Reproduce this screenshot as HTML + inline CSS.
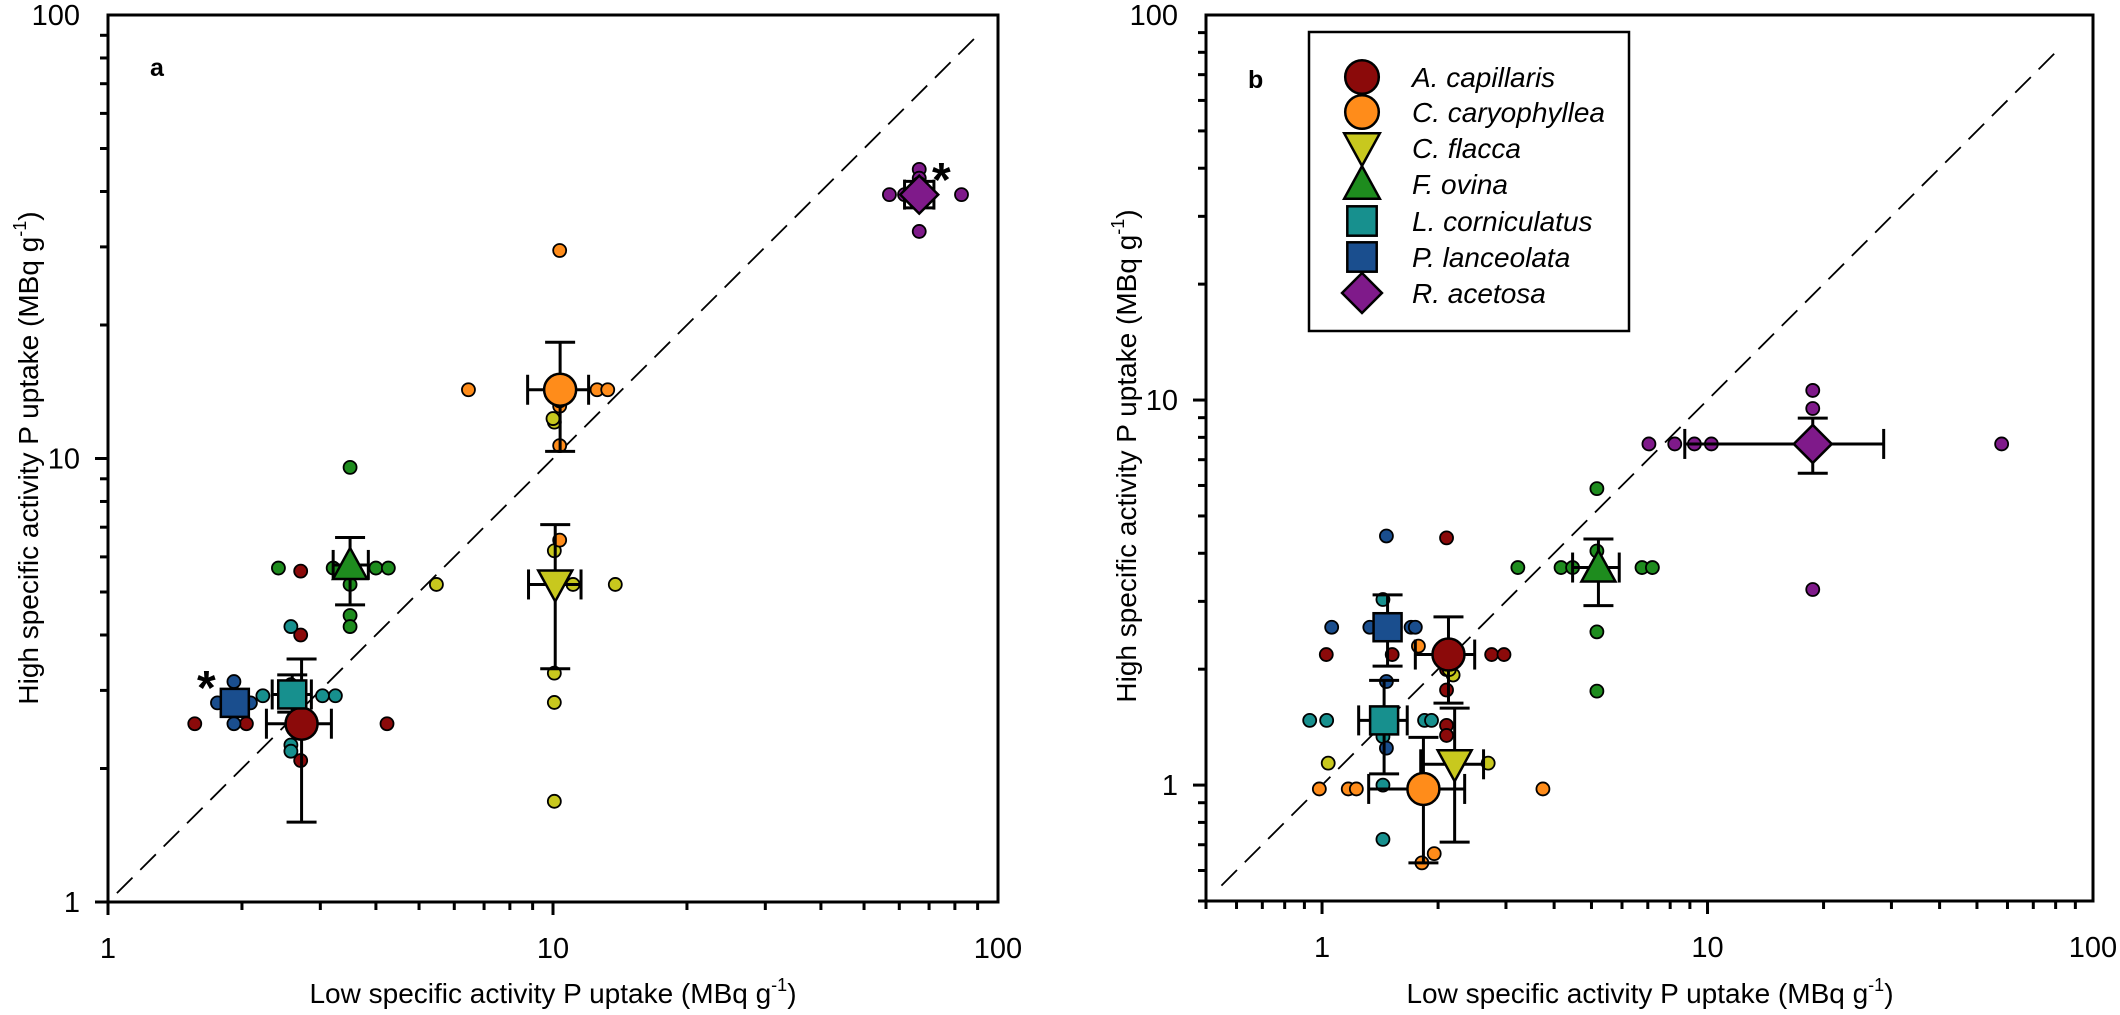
<!DOCTYPE html>
<html><head><meta charset="utf-8"><style>
html,body{margin:0;padding:0;background:#fff;}
svg{display:block;font-family:"Liberation Sans",Arial,sans-serif;}
</style></head><body>
<svg id="s" width="2120" height="1015" viewBox="0 0 2120 1015" xmlns="http://www.w3.org/2000/svg"></svg>
<script>
var S=document.getElementById('s');var out='';
var C={ac:'#8B0A0A',cc:'#FF8C1A',cf:'#C8C81E',fo:'#1E8C1E',lc:'#17908E',pl:'#1A4E8E',ra:'#7F1A8A'};
function P(L,R,T,B,x0,x1,y0,y1){return{L:L,R:R,T:T,B:B,X:function(v){return L+(v-x0)/(x1-x0)*(R-L)},Y:function(v){return B-(v-y0)/(y1-y0)*(B-T)},x0:x0,x1:x1,y0:y0,y1:y1};}
function lg(v){return Math.log10(v);}
function axes(p){
 out+='<rect x="'+p.L+'" y="'+p.T+'" width="'+(p.R-p.L)+'" height="'+(p.B-p.T)+'" fill="none" stroke="#000" stroke-width="3"/>';
 for(var d=Math.floor(p.x0);d<p.x1;d++){for(var m=1;m<10;m++){var v=d+lg(m);if(v<p.x0-1e-6||v>p.x1+1e-6)continue;var x=p.X(v);var len=m==1?13:8;out+='<line x1="'+x+'" y1="'+p.B+'" x2="'+x+'" y2="'+(p.B+len)+'" stroke="#000" stroke-width="3"/>';}}
 for(var d=Math.floor(p.y0);d<p.y1;d++){for(var m=1;m<10;m++){var v=d+lg(m);if(v<p.y0-1e-6||v>p.y1+1e-6)continue;var y=p.Y(v);var len=m==1?13:8;out+='<line x1="'+p.L+'" y1="'+y+'" x2="'+(p.L-len)+'" y2="'+y+'" stroke="#000" stroke-width="3"/>';}}
 var lab=[[0,'1'],[1,'10'],[2,'100']];
 lab.forEach(function(l){if(l[0]>=p.x0&&l[0]<=p.x1)out+='<text x="'+p.X(l[0])+'" y="'+(p.B+56)+'" font-size="29" text-anchor="middle">'+l[1]+'</text>';
 if(l[0]>=p.y0&&l[0]<=p.y1)out+='<text x="'+(p.L-28)+'" y="'+(p.Y(l[0])+10)+'" font-size="29" text-anchor="end">'+l[1]+'</text>';});
}
function dot(p,x,y,c){out+='<circle cx="'+p.X(x)+'" cy="'+p.Y(y)+'" r="6.5" fill="'+c+'" stroke="#000" stroke-width="1.8"/>';}
function eb(p,x,y,xa,xb,ya,yb){var X=p.X(x),Y=p.Y(y);var s='stroke="#000" stroke-width="3"';
 if(xa!=null){var a=p.X(xa),b=p.X(xb);out+='<line x1="'+a+'" y1="'+Y+'" x2="'+b+'" y2="'+Y+'" '+s+'/><line x1="'+a+'" y1="'+(Y-15)+'" x2="'+a+'" y2="'+(Y+15)+'" '+s+'/><line x1="'+b+'" y1="'+(Y-15)+'" x2="'+b+'" y2="'+(Y+15)+'" '+s+'/>';}
 if(ya!=null){var a=p.Y(ya),b=p.Y(yb);out+='<line x1="'+X+'" y1="'+a+'" x2="'+X+'" y2="'+b+'" '+s+'/><line x1="'+(X-15)+'" y1="'+a+'" x2="'+(X+15)+'" y2="'+a+'" '+s+'/><line x1="'+(X-15)+'" y1="'+b+'" x2="'+(X+15)+'" y2="'+b+'" '+s+'/>';}}
function mk(X,Y,t,c,k){k=k||1;var st='fill="'+c+'" stroke="#000" stroke-width="2.5"';
 if(t=='c')out+='<circle cx="'+X+'" cy="'+Y+'" r="'+16*k+'" '+st+'/>';
 else if(t=='s')out+='<rect x="'+(X-14*k)+'" y="'+(Y-14*k)+'" width="'+28*k+'" height="'+28*k+'" '+st+'/>';
 else if(t=='d')out+='<polygon points="'+X+','+(Y-19*k)+' '+(X+19*k)+','+Y+' '+X+','+(Y+19*k)+' '+(X-19*k)+','+Y+'" '+st+'/>';
 else if(t=='tu')out+='<polygon points="'+X+','+(Y-17*k)+' '+(X+17*k)+','+(Y+14*k)+' '+(X-17*k)+','+(Y+14*k)+'" '+st+'/>';
 else if(t=='td')out+='<polygon points="'+X+','+(Y+17*k)+' '+(X+17*k)+','+(Y-14*k)+' '+(X-17*k)+','+(Y-14*k)+'" '+st+'/>';}
function big(p,x,y,t,c){mk(p.X(x),p.Y(y),t,c);}
function dash(p,a,b){out+='<line x1="'+p.X(a)+'" y1="'+p.Y(a)+'" x2="'+p.X(b)+'" y2="'+p.Y(b)+'" stroke="#000" stroke-width="1.8" stroke-dasharray="22,11"/>';}
var ttl='specific activity P uptake (MBq g<tspan dy="-12" font-size="18">-1</tspan><tspan dy="12">)</tspan>';

// Panel a
var A=P(108,998,15,902,0,2,0,2);
axes(A);dash(A,0.02,1.95);
var da=[['ac',[[.195,.402],[.311,.402],[.433,.746],[.433,.602],[.433,.319],[.627,.402]]],
['pl',[[.283,.497],[.246,.449],[.283,.402],[.32,.449]]],
['lc',[[.348,.465],[.411,.621],[.411,.354],[.411,.34],[.482,.465],[.511,.465],[.411,.49]]],
['fo',[[.383,.753],[.544,.98],[.506,.753],[.602,.753],[.63,.753],[.544,.716],[.544,.646],[.544,.621]]],
['cf',[[.738,.716],[1.003,.792],[1.045,.716],[1.140,.716],[1.003,.516],[1.003,.450],[1.003,.227],[1.003,1.082],[1.0,1.09]]],
['cc',[[.810,1.155],[1.099,1.155],[1.123,1.155],[1.015,1.469],[1.015,1.118],[1.015,1.029],[1.015,.816],[1.015,1.13]]],
['ra',[[1.756,1.595],[1.918,1.595],[1.823,1.652],[1.823,1.632],[1.823,1.512],[1.823,1.62],[1.79,1.595]]]];
da.forEach(function(g){g[1].forEach(function(q){dot(A,q[0],q[1],C[g[0]]);});});
eb(A,.435,.402,.356,.502,.548,.180);
eb(A,1.016,1.155,.943,1.080,1.262,1.016);
eb(A,1.005,.716,.945,1.063,.851,.526);
eb(A,.544,.760,.506,.585,.822,.670);
eb(A,.414,.468,.369,.457,.512,.428);
eb(A,1.823,1.595,1.79,1.856,1.625,1.565);
big(A,.435,.402,'c',C.ac);big(A,1.016,1.155,'c',C.cc);big(A,1.005,.716,'td',C.cf);big(A,.544,.760,'tu',C.fo);
big(A,.414,.468,'s',C.lc);big(A,.285,.449,'s',C.pl);big(A,1.823,1.595,'d',C.ra);
out+='<text x="150" y="76" font-size="25" font-weight="bold">a</text>';
out+='<text x="197" y="704" font-size="48" font-weight="bold">*</text>';
out+='<text x="932" y="196" font-size="48" font-weight="bold">*</text>';
out+='<text x="553" y="1003" font-size="28" text-anchor="middle">Low '+ttl+'</text>';
out+='<text transform="translate(38,458) rotate(-90)" font-size="28" text-anchor="middle">High '+ttl+'</text>';

// Panel b
var l5=Math.log10(0.5);
var B=P(1206,2093,15,901,l5,2,l5,2);
axes(B);dash(B,-.261,1.9);
var db=[['ac',[[.011,.339],[.182,.339],[.44,.339],[.472,.339],[.323,.642],[.323,.247],[.323,.155],[.323,.129],[.323,.30]]],
['cc',[[-.007,-.010],[.068,-.010],[.089,-.010],[.573,-.010],[.25,.361],[.291,-.178],[.259,-.202]]],
['cf',[[.016,.057],[.431,.057],[.34,.286],[.33,.30]]],
['fo',[[.508,.565],[.62,.565],[.65,.565],[.83,.565],[.857,.565],[.713,.770],[.713,.608],[.713,.398],[.713,.244]]],
['lc',[[-.032,.168],[.012,.168],[.266,.168],[.284,.168],[.158,.482],[.158,.126],[.158,0],[.158,-.141]]],
['pl',[[.025,.41],[.124,.41],[.231,.41],[.242,.41],[.167,.647],[.167,.269],[.167,.096]]],
['ra',[[.848,.886],[.915,.886],[.966,.886],[1.01,.886],[1.763,.886],[1.273,1.025],[1.273,.978],[1.273,.508]]]];
db.forEach(function(g){g[1].forEach(function(q){dot(B,q[0],q[1],C[g[0]]);});});
eb(B,.328,.339,.242,.396,.437,.213);
eb(B,.263,-.010,.121,.370,.124,-.202);
eb(B,.344,.054,.256,.419,.200,-.148);
eb(B,.717,.565,.650,.771,.639,.466);
eb(B,.161,.168,.095,.221,.272,.029);
eb(B,.170,.41,null,null,.494,.309);
eb(B,1.273,.886,.941,1.457,.953,.81);
big(B,.328,.339,'c',C.ac);big(B,.263,-.010,'c',C.cc);big(B,.344,.054,'td',C.cf);big(B,.717,.565,'tu',C.fo);
big(B,.161,.168,'s',C.lc);big(B,.170,.41,'s',C.pl);big(B,1.273,.886,'d',C.ra);
out+='<text x="1248" y="88" font-size="25" font-weight="bold">b</text>';
out+='<rect x="1309" y="32" width="320" height="299" fill="#fff" stroke="#000" stroke-width="2.5"/>';
var L=[['c','ac','A. capillaris'],['c','cc','C. caryophyllea'],['td','cf','C. flacca'],['tu','fo','F. ovina'],['s','lc','L. corniculatus'],['s','pl','P. lanceolata'],['d','ra','R. acetosa']];
var ry=[77,112,148,184,221,257,293];
L.forEach(function(e,i){mk(1362,ry[i],e[0],C[e[1]],1.05);out+='<text x="1412" y="'+(ry[i]+10)+'" font-size="28" font-style="italic">'+e[2]+'</text>';});
out+='<text x="1650" y="1003" font-size="28" text-anchor="middle">Low '+ttl+'</text>';
out+='<text transform="translate(1136,456) rotate(-90)" font-size="28" text-anchor="middle">High '+ttl+'</text>';
S.innerHTML=out;
</script>
</body></html>
